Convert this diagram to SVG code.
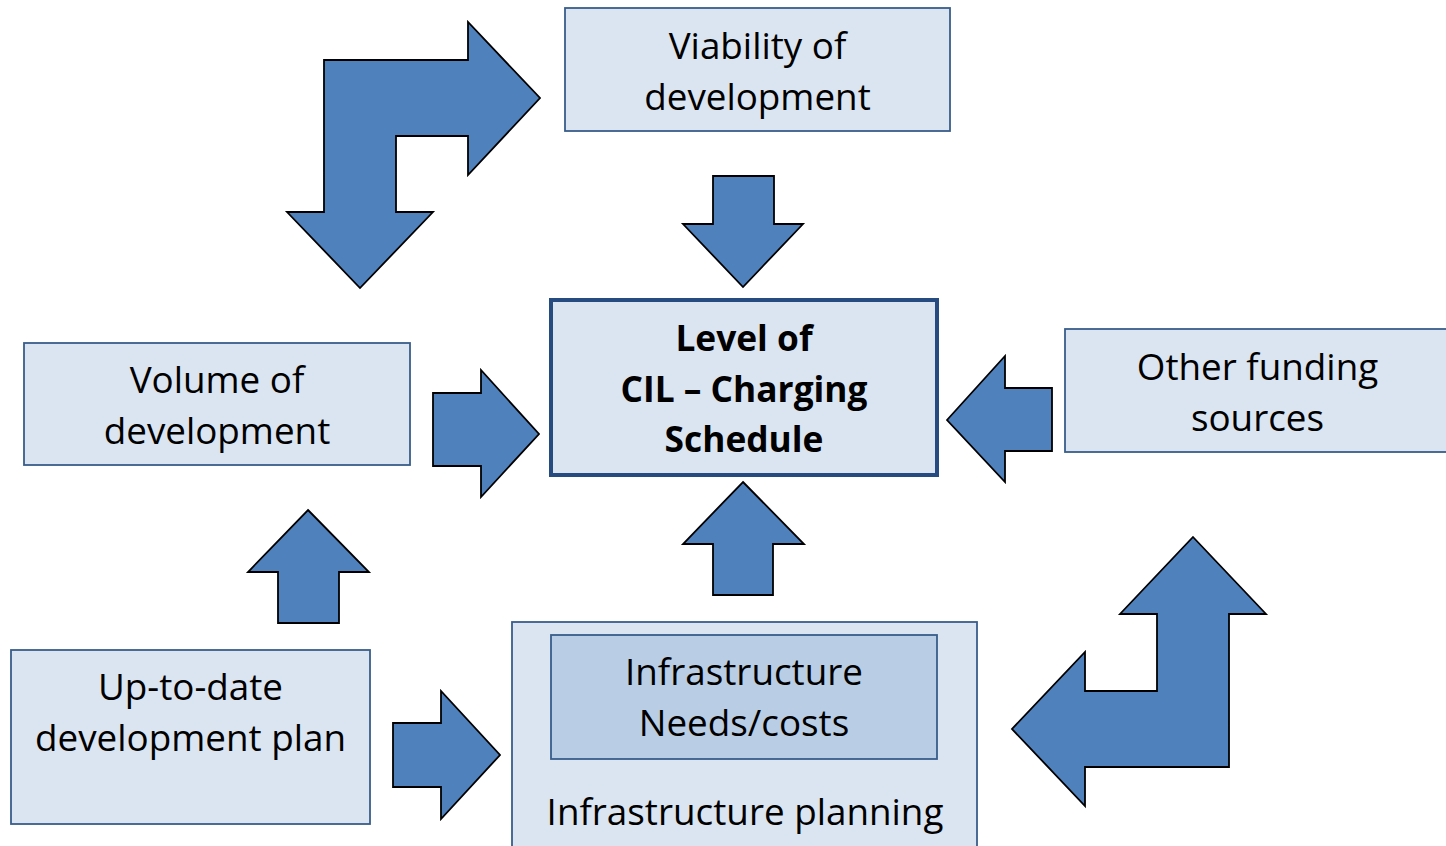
<svg xmlns="http://www.w3.org/2000/svg" width="1446" height="846" viewBox="0 0 1446 846">
  <style>
    .box { fill: #DBE5F1; stroke: #385D8A; stroke-width: 1.8; }
    .inner { fill: #B9CDE5; stroke: #385D8A; stroke-width: 1.8; }
    .core { fill: #DBE5F1; stroke: #254B80; stroke-width: 4; }
    .arrow { fill: #4F81BD; stroke: #000000; stroke-width: 1.8; stroke-linejoin: miter; }
    .label { font-family: "Open Sans", "Noto Sans", "Liberation Sans", sans-serif; font-size: 36.8px; fill: #000000; text-anchor: middle; }
    .bold { font-weight: bold; font-size: 35.3px; }
  </style>

  <!-- Nodes -->
  <g id="viability">
    <rect class="box" x="565" y="8" width="385" height="123"/>
    <text class="label" x="757.5" y="59">Viability of</text>
    <text class="label" x="757.5" y="110">development</text>
  </g>

  <g id="cil-charging-schedule">
    <rect class="core" x="551" y="300" width="386" height="175"/>
    <text class="label bold" x="744" y="351">Level of</text>
    <text class="label bold" x="744" y="402">CIL – Charging</text>
    <text class="label bold" x="744" y="452">Schedule</text>
  </g>

  <g id="volume">
    <rect class="box" x="24" y="343" width="386" height="122"/>
    <text class="label" x="217" y="393">Volume of</text>
    <text class="label" x="217" y="444">development</text>
  </g>

  <g id="other-funding">
    <rect class="box" x="1065" y="329" width="385" height="123"/>
    <text class="label" x="1257.5" y="380">Other funding</text>
    <text class="label" x="1257.5" y="431">sources</text>
  </g>

  <g id="development-plan">
    <rect class="box" x="11" y="650" width="359" height="174"/>
    <text class="label" x="190.5" y="700">Up-to-date</text>
    <text class="label" x="190.5" y="751">development plan</text>
  </g>

  <g id="infrastructure-planning">
    <rect class="box" x="512" y="622" width="465" height="240"/>
    <text class="label" x="745" y="825">Infrastructure planning</text>
  </g>

  <g id="infrastructure-needs">
    <rect class="inner" x="551" y="635" width="386" height="124"/>
    <text class="label" x="744" y="685">Infrastructure</text>
    <text class="label" x="744" y="736">Needs/costs</text>
  </g>

  <!-- Connectors: block arrows -->
  <g id="connectors">
    <!-- two-way bent arrow: volume <-> viability -->
    <polygon class="arrow" points="324,60 468,60 468,22 540,98 468,175 468,136 396,136 396,212 433,212 360,288 287,212 324,212"/>
    <!-- viability -> schedule -->
    <polygon class="arrow" points="713,176 774,176 774,224 803,224 743,287 683,224 713,224"/>
    <!-- volume -> schedule -->
    <polygon class="arrow" points="433,393 481,393 481,370 539,434 481,497 481,466 433,466"/>
    <!-- other funding -> schedule -->
    <polygon class="arrow" points="947,420 1005,356 1005,388 1052,388 1052,451 1005,451 1005,482"/>
    <!-- infrastructure -> schedule -->
    <polygon class="arrow" points="743,482 804,544 773,544 773,595 713,595 713,544 683,544"/>
    <!-- development plan -> volume -->
    <polygon class="arrow" points="308,510 369,572 339,572 339,623 278,623 278,572 248,572"/>
    <!-- development plan -> infrastructure -->
    <polygon class="arrow" points="393,723 441,723 441,691 500,755 441,819 441,787 393,787"/>
    <!-- two-way bent arrow: infrastructure <-> other funding -->
    <polygon class="arrow" points="1193,537 1266,614 1229,614 1229,767 1085,767 1085,806 1012,729 1085,652 1085,691 1157,691 1157,614 1120,614"/>
  </g>
</svg>
